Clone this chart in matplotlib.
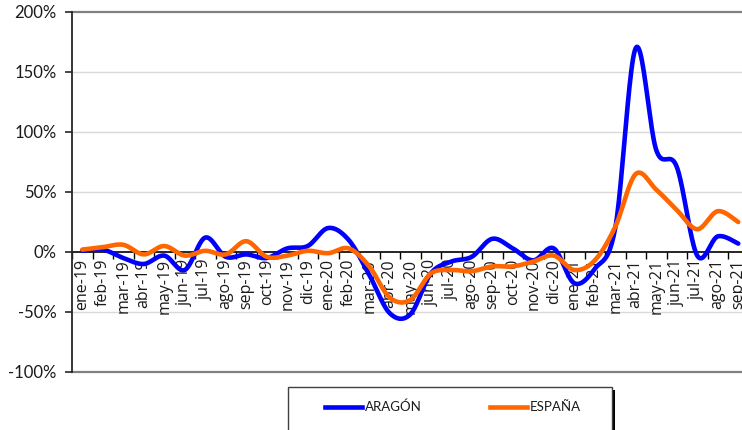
import numpy as np
import matplotlib
matplotlib.use("Agg")
import matplotlib.pyplot as plt
from matplotlib.patches import Rectangle
from matplotlib.lines import Line2D

months = ["ene-19", "feb-19", "mar-19", "abr-19", "may-19", "jun-19", "jul-19", "ago-19",
          "sep-19", "oct-19", "nov-19", "dic-19", "ene-20", "feb-20", "mar-20", "abr-20",
          "may-20", "jun-20", "jul-20", "ago-20", "sep-20", "oct-20", "nov-20", "dic-20",
          "ene-21", "feb-21", "mar-21", "abr-21", "may-21", "jun-21", "jul-21", "ago-21",
          "sep-21"]

aragon = [1, 2, -5, -10, -3, -15, 12, -4, -2, -5, 3, 5, 20, 10, -19, -51,
          -52, -18, -8, -4, 11, 3, -7, 3, -26, -14, 20, 170, 85, 71, -3, 13, 7]

espana = [2, 4, 6, -2, 5, -3, 1, -2, 9, -4, -3, 1, -1, 3, -12, -38,
          -40, -18, -15, -16, -12, -12, -8, -3, -15, -7, 21, 65, 52, 35, 19, 34, 25]

series_names = ["ARAGÓN", "ESPAÑA"]
series_colors = ["#0000ff", "#ff6600"]
yticks = [-100, -50, 0, 50, 100, 150, 200]


def smooth(y, n=24):
    """Catmull-Rom / Bezier smoothing similar to a spreadsheet 'smoothed line'."""
    y = np.asarray(y, dtype=float)
    x = np.arange(len(y), dtype=float)
    P = np.column_stack([x, y])
    Pe = np.vstack([P[0], P, P[-1]])
    xs, ys = [], []
    t = np.linspace(0, 1, n)
    for i in range(len(P) - 1):
        p0, p1, p2, p3 = Pe[i], Pe[i + 1], Pe[i + 2], Pe[i + 3]
        c1 = p1 + (p2 - p0) / 6.0
        c2 = p2 - (p3 - p1) / 6.0
        b = (((1 - t) ** 3)[:, None] * p1 + (3 * (1 - t) ** 2 * t)[:, None] * c1
             + (3 * (1 - t) * t ** 2)[:, None] * c2 + (t ** 3)[:, None] * p2)
        if i > 0:
            b = b[1:]
        xs.append(b[:, 0])
        ys.append(b[:, 1])
    return np.concatenate(xs), np.concatenate(ys)


W, H = 742, 430
fig = plt.figure(figsize=(W / 100, H / 100), dpi=100)
ax = fig.add_axes([72 / W, 58 / H, 676.5 / W, 360 / H])

n = len(months)
ax.set_xlim(-0.5, n - 0.5)
ax.set_ylim(-100, 200)

# gridlines
for v in [-50, 50, 100, 150]:
    ax.axhline(v, color="#d9d9d9", lw=1.0, zorder=0)
ax.axhline(200, color="#808080", lw=1.6, zorder=1, clip_on=False)
ax.axhline(-100, color="#808080", lw=1.6, zorder=1, clip_on=False)

for vals, col in zip([aragon, espana], series_colors):
    sx, sy = smooth(vals)
    ax.plot(sx, sy, color=col, lw=3.3, solid_capstyle="round", zorder=3)

# spines
for s in ["top", "right"]:
    ax.spines[s].set_visible(False)
ax.spines["left"].set_color("#262626")
ax.spines["left"].set_linewidth(1.3)
ax.spines["bottom"].set_position(("data", 0))
ax.spines["bottom"].set_color("black")
ax.spines["bottom"].set_linewidth(1.2)
ax.spines["bottom"].set_zorder(2)

ax.set_yticks(yticks)
ax.set_yticklabels([f"{v}%" for v in yticks], fontfamily="Lato", fontsize=12, color="#1a1a1a")
ax.tick_params(axis="y", length=5, width=1.2, color="#262626", pad=6)

ax.set_xticks(np.arange(n + 1) - 0.5)
ax.set_xticklabels([])
ax.set_xticks(np.arange(n), minor=True)
ax.set_xticklabels(months, minor=True, rotation=90, fontfamily="Open Sans",
                   fontsize=11.5, color="#1a1a1a", va="top", ha="center")
ax.tick_params(axis="x", which="major", length=5, width=1.0, direction="out", color="black")
ax.tick_params(axis="x", which="minor", length=0, pad=5)

# legend (manual, spreadsheet style)
x0, x1 = 288 / W, 612 / W
ytop = (H - 387) / H
shadow = Rectangle((x0 + 3 / W, -0.1), x1 - x0, ytop + 0.1 - 3 / H, transform=fig.transFigure,
                   facecolor="black", edgecolor="none", zorder=5)
box = Rectangle((x0, -0.1), x1 - x0, ytop + 0.1, transform=fig.transFigure,
                facecolor="white", edgecolor="#404040", lw=1.0, zorder=6)
fig.add_artist(shadow)
fig.add_artist(box)
ly = (H - 407) / H
for (la, lb, tx), name, col in zip([(325, 362, 365), (490, 527, 530)], series_names, series_colors):
    fig.add_artist(Line2D([la / W, lb / W], [ly, ly], transform=fig.transFigure,
                          color=col, lw=3.3, zorder=7))
    fig.text(tx / W, ly, name, fontfamily="Lato", fontsize=9.5, va="center", ha="left",
             color="#1a1a1a", zorder=7)

fig.savefig("out.png", dpi=100)
